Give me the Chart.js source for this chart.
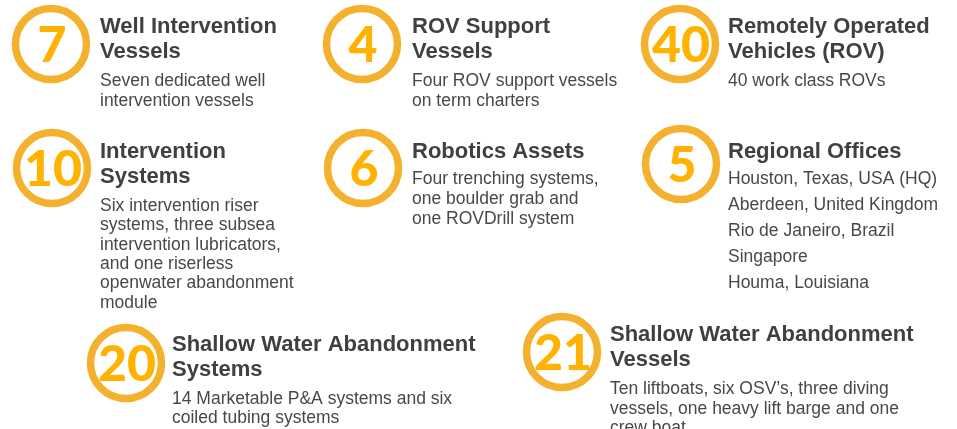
<!DOCTYPE html>
<html>
<head>
<meta charset="utf-8">
<script src="https://cdn.jsdelivr.net/npm/chart.js@4.4.1/dist/chart.umd.min.js"></script>
<style>
    html, body { margin: 0; padding: 0; background: #ffffff; }
    #wrap { position: relative; width: 957px; height: 429px; }
</style>
</head>
<body>
<div id="wrap"><canvas id="fleet-chart"></canvas></div>
<script>
// Data
const counts = [7, 4, 40, 10, 6, 5, 20, 21];
const titles = [
    ["Well Intervention", "Vessels"],
    ["ROV Support", "Vessels"],
    ["Remotely Operated", "Vehicles (ROV)"],
    ["Intervention", "Systems"],
    ["Robotics Assets"],
    ["Regional Offices"],
    ["Shallow Water Abandonment", "Systems"],
    ["Shallow Water Abandonment", "Vessels"],
];
const details = [
    ["Seven dedicated well", "intervention vessels"],
    ["Four ROV support vessels", "on term charters"],
    ["40 work class ROVs"],
    ["Six intervention riser", "systems, three subsea", "intervention lubricators,", "and one riserless", "openwater abandonment", "module"],
    ["Four trenching systems,", "one boulder grab and", "one ROVDrill system"],
    ["Houston, Texas, USA (HQ)", "Aberdeen, United Kingdom", "Rio de Janeiro, Brazil", "Singapore", "Houma, Louisiana"],
    ["14 Marketable P&A systems and six", "coiled tubing systems"],
    ["Ten liftboats, six OSV\u2019s, three diving", "vessels, one heavy lift barge and one", "crew boat"],
];

// Layout (page units), kept apart from the data
const slotX = [51, 362, 680, 52, 363, 681, 126, 562];
const slotY = [44, 44, 44, 168, 168, 164, 363, 352];
const textX = [100, 412, 728, 100, 412, 728, 172, 610];
const titleBase = [33, 33, 33, 158, 158, 158, 351, 341];
const detailStep = [19.5, 19.5, 19.5, 19.3, 20, 26, 19, 19.5];

const RING = "#F3B12E";
const NUM = "#FFB200";

// Draws the numbers, titles and descriptions next to each circle
const labelPlugin = {
    id: "labels",
    afterDatasetsDraw(chart) {
        const { ctx, scales } = chart;
        ctx.save();
        counts.forEach((n, i) => {
            const px = scales.x.getPixelForValue(slotX[i]);
            const py = scales.y.getPixelForValue(slotY[i]);
            ctx.fillStyle = NUM;
            ctx.font = "900 50px Lato";
            ctx.textAlign = "center";
            ctx.textBaseline = "alphabetic";
            ctx.fillText(String(n), px + 1, py + 18);

            ctx.textAlign = "left";
            ctx.fillStyle = "#404040";
            ctx.font = "bold 22px 'Liberation Sans'";
            let y = titleBase[i];
            titles[i].forEach((line, k) => {
                if (k > 0) y += 24.5;
                ctx.fillText(line, textX[i], y);
            });
            ctx.fillStyle = "#484848";
            ctx.font = "17.5px 'Liberation Sans'";
            y += titles[i].length > 1 ? 28.5 : 26;
            details[i].forEach((line) => {
                ctx.fillText(line, textX[i], y);
                y += detailStep[i];
            });
        });
        ctx.restore();
    },
};

new Chart(document.getElementById("fleet-chart"), {
    type: "scatter",
    data: {
        labels: titles.map((t) => t.join(" ")),
        datasets: [{
            data: counts.map((n, i) => ({ x: slotX[i], y: slotY[i], n })),
            pointRadius: 35.5,
            pointHoverRadius: 35.5,
            pointBorderWidth: 7.5,
            pointHoverBorderWidth: 7.5,
            pointBackgroundColor: "#ffffff",
            pointBorderColor: RING,
            clip: false,
        }],
    },
    options: {
        responsive: true,
        maintainAspectRatio: false,
        animation: false,
        events: [],
        layout: { padding: 0, autoPadding: false },
        plugins: { legend: { display: false }, tooltip: { enabled: false } },
        scales: {
            x: { type: "linear", min: 0, max: 957, display: false },
            y: { type: "linear", min: 0, max: 429, reverse: true, display: false },
        },
    },
    plugins: [labelPlugin],
});
</script>
</body>
</html>
